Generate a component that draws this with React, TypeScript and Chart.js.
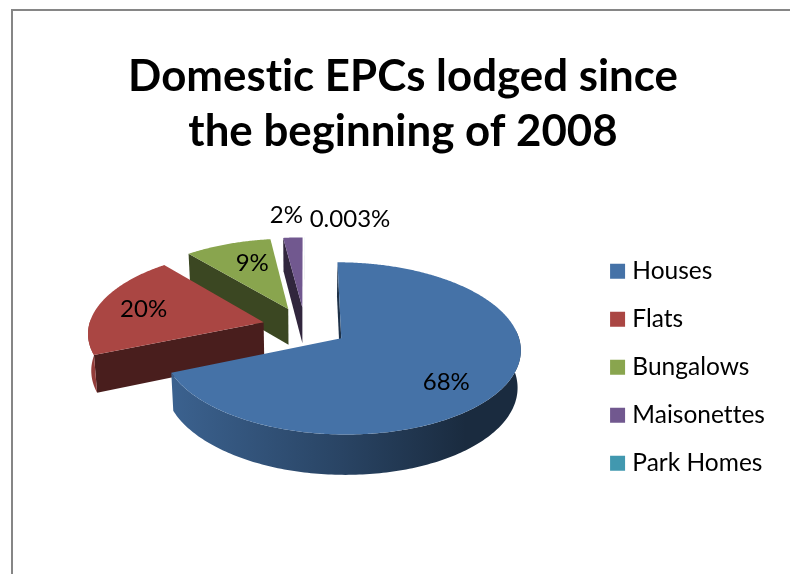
import React, { useEffect, useRef } from "react";
import { Chart, registerables } from "chart.js";

Chart.register(...registerables);

const categories = ["Houses", "Flats", "Bungalows", "Maisonettes", "Park Homes"];
const shares = [68, 20, 9, 2, 0.003];
const sliceColors = ["#4572A7", "#AA4643", "#89A54E", "#71588F", "#4198AF"];
const titleLines = ["Domestic EPCs lodged since", "the beginning of 2008"];

// 3D view of the pie (the library supplies each slice's angles)
const VIEW = { cx: 305, cy: 327, rx: 175, ry: 82.3, k: 0.115, depth: 36.5, taper: 0.015, explode: 0.245 };
const labelOffsets = [[105, 44], [-120, -13], [-36, -46], [-16, -92], [45, -88]];
const FONT = "Lato";

const rgb = (hex: string) => [1, 3, 5].map((i) => parseInt(hex.slice(i, i + 2), 16));
const shade = (hex: string, f: number) => {
  const [r, g, b] = rgb(hex);
  return `rgb(${Math.round(r * f)},${Math.round(g * f)},${Math.round(b * f)})`;
};
const project = (u: number, v: number, z: number) => {
  const s = 1 / (1 - VIEW.k * v);
  const m = 1 - VIEW.taper * z;
  return [VIEW.cx + VIEW.rx * u * s * m, VIEW.cy + VIEW.ry * v * s * m + VIEW.depth * z * s];
};
const FRONT_FROM = (85 * Math.PI) / 180;
const FRONT_TO = (272 * Math.PI) / 180;

const pie3d = {
  id: "pie3d",
  beforeDraw(chart: any) {
    const { ctx, width, height } = chart;
    // non-zero spacing switches the font's ligatures off, as in the reference
    ctx.letterSpacing = "0.01px";
    ctx.save();
    ctx.fillStyle = "#ffffff";
    ctx.fillRect(0, 0, width, height);
    ctx.fillStyle = "#868686";
    ctx.fillRect(11, 9, width - 11, 2);
    ctx.fillRect(11, 9, 2, height - 9);
    ctx.restore();
  },
  beforeDatasetsDraw(chart: any) {
    const { ctx } = chart;
    const arcs = chart.getDatasetMeta(0).data;
    const slices = arcs.map((arc: any, i: number) => {
      const a0 = arc.startAngle + Math.PI / 2;
      const a1 = arc.endAngle + Math.PI / 2;
      const mid = (a0 + a1) / 2;
      return { i, a0, a1, ou: VIEW.explode * Math.sin(mid), ov: -VIEW.explode * Math.cos(mid) };
    });
    const poly = (pts: number[][], fill: any) => {
      ctx.beginPath();
      pts.forEach((p, n) => (n ? ctx.lineTo(p[0], p[1]) : ctx.moveTo(p[0], p[1])));
      ctx.closePath();
      ctx.fillStyle = fill;
      ctx.fill();
    };
    const step = Math.PI / 180;
    ctx.save();
    for (const sl of [...slices].reverse()) {
      const color = sliceColors[sl.i];
      const rim = (t: number, z: number) => project(sl.ou + Math.sin(t), sl.ov - Math.cos(t), z);
      const apex = (z: number) => project(sl.ou, sl.ov, z);
      poly([apex(0), rim(sl.a0, 0), rim(sl.a0, 1), apex(1)], shade(color, 0.43));
      const w0 = Math.max(sl.a0, FRONT_FROM);
      const w1 = Math.min(sl.a1, FRONT_TO);
      if (w1 > w0) {
        const xl = project(sl.ou - 1, sl.ov, 0)[0];
        const xr = project(sl.ou + 1, sl.ov, 0)[0];
        const grad = ctx.createLinearGradient(xl, 0, xr, 0);
        grad.addColorStop(0, shade(color, 0.87));
        grad.addColorStop(0.5, shade(color, 0.6));
        grad.addColorStop(0.85, shade(color, 0.38));
        grad.addColorStop(1, shade(color, 0.38));
        const up: number[][] = [];
        const down: number[][] = [];
        for (let t = w0; t < w1; t += step) {
          up.push(rim(t, 0));
          down.push(rim(t, 1));
        }
        up.push(rim(w1, 0));
        down.push(rim(w1, 1));
        poly([...up, ...down.reverse()], grad);
      }
      const top = [apex(0)];
      for (let t = sl.a0; t < sl.a1; t += step / 2) top.push(rim(t, 0));
      top.push(rim(sl.a1, 0));
      poly(top, color);
    }
    ctx.font = `24px ${FONT}`;
    ctx.textAlign = "center";
    ctx.textBaseline = "middle";
    ctx.fillStyle = "#000000";
    slices.forEach((sl: any) => {
      const p = project(sl.ou, sl.ov, 0);
      const [dx, dy] = labelOffsets[sl.i];
      ctx.fillText(`${shares[sl.i]}%`, p[0] + dx, p[1] + dy);
    });
    ctx.restore();
    return false;
  },
};

export default function App() {
  const ref = useRef<HTMLCanvasElement>(null);
  useEffect(() => {
    const chart = new Chart(ref.current!, {
      type: "pie",
      data: {
        labels: categories,
        datasets: [{ data: shares, backgroundColor: sliceColors, borderWidth: 0 }],
      },
      options: {
        animation: false,
        responsive: false,
        layout: { padding: { left: 32, right: 16, top: 49, bottom: 75 } },
        plugins: {
          tooltip: { enabled: false },
          title: {
            display: true,
            text: titleLines,
            color: "#000000",
            font: { family: FONT, size: 43.8, weight: "bold", lineHeight: 55 / 43.8 },
            padding: { top: 0, bottom: 30 },
          },
          legend: {
            position: "right",
            align: "end",
            labels: {
              font: { family: FONT, size: 24.5 },
              color: "#000000",
              boxWidth: 5,
              boxHeight: 5,
              padding: 23.5,
              generateLabels: () =>
                categories.map((text, i) => ({
                  text,
                  index: i,
                  fillStyle: sliceColors[i],
                  strokeStyle: sliceColors[i],
                  lineWidth: 10,
                  hidden: false,
                })),
            },
          },
        },
      },
      plugins: [pie3d],
    } as any);
    return () => chart.destroy();
  }, []);
  return (
    <div style={{ position: "fixed", left: 0, top: 0, width: 790, height: 574, background: "#fff" }}>
      <canvas ref={ref} width={790} height={574} style={{ display: "block" }} />
    </div>
  );
}
